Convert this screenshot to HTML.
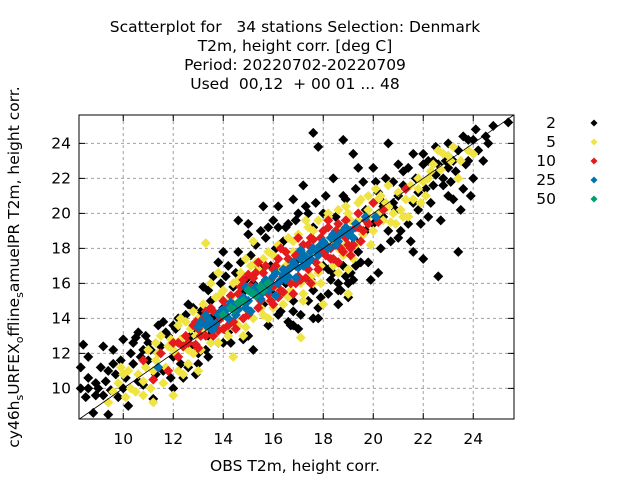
<!DOCTYPE html>
<html><head><meta charset="utf-8"><style>
body{margin:0;background:#fff}
svg{display:block;font-family:"DejaVu Sans","Liberation Sans",sans-serif}
</style></head><body>
<svg id="chart" width="640" height="480">
<g font-size="15.5" text-anchor="middle" fill="#000" style="white-space:pre">
<text x="295" y="32" xml:space="preserve">Scatterplot for   34 stations Selection: Denmark</text>
<text x="295" y="51">T2m, height corr. [deg C]</text>
<text x="295" y="70">Period: 20220702-20220709</text>
<text x="295" y="89" xml:space="preserve">Used  00,12  + 00 01 ... 48</text>
</g>
<g id="grid"></g>
<g id="marks"></g>
<g id="axes"></g>
<text x="295" y="471" font-size="15.5" text-anchor="middle">OBS T2m, height corr.</text>
<text transform="translate(19,267) rotate(-90)" font-size="15.5" text-anchor="middle">cy46h<tspan font-size="11" dy="4">s</tspan><tspan dy="-4">URFEX</tspan><tspan font-size="11" dy="4">o</tspan><tspan dy="-4">ffline</tspan><tspan font-size="11" dy="4">s</tspan><tspan dy="-4">amuelPR T2m, height corr.</tspan></text>
<g id="legend"></g>
</svg>
<script>
const xTicks=[10,12,14,16,18,20,22,24];
const yTicks=[10,12,14,16,18,20,22,24];
const legendLabels=["2","5","10","25","50"];
const colors=["#000000","#f0e442","#e41a1c","#0072b2","#009e73"];
const blackPts=[[8.3,11.2],[8.4,12.5],[8.6,10.6],[8.8,8.6],[9.0,10.0],[9.2,12.4],[9.4,8.5],[9.6,11.4],[9.8,9.5],[10.0,12.8],[10.2,9.0],[10.4,11.4],[10.6,13.2],[10.8,10.2],[11.0,12.6],[11.2,9.4],[11.4,13.6],[11.6,11.0],[11.8,13.0],[12.0,10.0],[12.2,14.0],[12.4,12.4],[12.6,11.2],[12.8,14.6],[13.0,12.0],[13.2,15.8],[13.4,13.0],[13.6,16.4],[13.8,12.6],[14.0,17.8],[14.2,13.2],[14.4,15.8],[14.6,19.6],[14.8,12.8],[15.0,18.8],[15.2,12.2],[15.4,17.0],[15.6,20.4],[15.8,13.6],[16.0,19.6],[16.2,14.2],[16.4,18.4],[16.6,13.8],[16.8,20.8],[17.0,13.4],[17.2,21.6],[17.4,15.0],[17.6,19.2],[17.8,14.6],[18.0,20.0],[18.2,15.4],[18.4,22.0],[18.6,14.8],[18.8,21.0],[19.0,16.0],[19.2,23.4],[19.4,17.8],[19.6,21.8],[19.8,17.2],[20.0,22.6],[20.2,16.6],[20.4,20.6],[20.6,19.0],[20.8,21.8],[21.0,18.6],[21.2,22.4],[21.4,19.4],[21.6,23.4],[21.8,20.2],[22.0,22.8],[22.2,19.8],[22.4,23.0],[22.6,16.4],[22.8,21.6],[23.0,24.0],[23.2,20.8],[23.4,23.6],[23.6,21.4],[23.8,24.2],[24.0,22.0],[24.2,23.6],[24.5,24.4],[24.8,25.0],[25.4,25.2],[24.6,24.0],[23.4,17.8],[21.6,17.8],[22.0,17.4],[17.8,23.8],[17.6,24.6],[18.8,24.2],[20.6,24.0],[14.0,14.6],[16.5,16.0],[18.4,18.8],[19.7,19.0],[12.0,11.8],[10.6,10.4],[14.8,15.5],[17.0,17.4],[13.4,11.8],[15.6,14.8],[18.0,17.0],[16.0,15.4],[17.6,14.0],[18.6,15.6],[19.0,15.2],[13.8,17.2],[15.5,19.0],[16.2,19.2],[12.4,10.6],[9.2,9.6],[11.0,11.6],[21.0,21.0],[22.5,23.8],[23.0,22.6],[20.0,19.4],[19.3,18.4],[16.8,15.0],[14.4,13.8],[12.9,13.4],
[8.5,9.5],[8.9,10.3],[9.1,11.2],[9.3,10.4],[9.5,9.9],[9.7,10.8],[9.9,11.6],[10.1,10.6],[10.3,12.0],[10.5,12.9],[10.7,11.8],[10.9,13.0],[11.1,12.2],[11.3,10.8],[11.5,12.4],[11.7,13.2],[11.9,10.6],[12.1,13.4],[12.3,11.4],[12.5,14.2],[12.7,13.0],[12.9,10.8],[13.1,14.4],[13.3,12.2],[13.5,15.0],[13.7,13.8],[13.9,16.0],[14.1,16.4],[14.3,12.6],[14.5,16.6],[14.7,17.2],[14.9,16.2],[15.1,17.6],[15.3,18.2],[15.5,16.8],[15.7,18.6],[15.9,17.0],[16.1,18.0],[16.3,14.4],[16.5,19.2],[16.7,13.6],[16.9,19.6],[17.1,14.2],[17.3,20.4],[17.5,16.2],[17.7,20.6],[17.9,15.2],[18.1,21.0],[18.3,16.2],[18.5,19.8],[18.7,15.6],[18.9,20.8],[19.1,16.6],[19.3,21.4],[19.5,17.2],[19.7,20.2],[19.9,16.2],[20.1,21.8],[20.3,18.0],[20.5,22.0],[20.7,18.4],[20.9,20.2],[21.1,19.0],[21.3,21.4],[21.5,18.4],[21.7,22.0],[21.9,19.4],[22.1,21.4],[22.3,20.6],[22.5,22.2],[22.7,19.6],[22.9,23.0],[23.1,21.8],[23.3,22.4],[23.5,20.2],[23.7,22.8],[23.9,21.0],[24.1,24.8],[22.0,23.4],[21.2,21.6],[20.4,19.8],[19.6,18.8],[18.8,17.0],[18.4,16.6],[18.6,17.2],[18.2,16.8],[17.4,20.0],[16.6,19.4],[15.8,19.2],[14.6,17.8],[13.4,15.6],[12.6,14.8],[11.6,13.8],[10.4,12.6],[9.6,12.2],[8.6,11.8],[8.3,10.0],[8.9,9.6],[23.2,23.0],[24.4,23.0],[23.6,24.4],[22.6,22.8],[21.6,20.6],[20.8,20.6],[16.8,13.6],[17.6,15.6],[19.2,16.2],[15.0,13.0],[14.0,12.6],[13.0,11.4],
[20.4,20.4],[21.4,22.6],[22.2,23.0],[23.0,21.0],[22.8,22.0],[24.0,24.2],[23.8,23.0],[21.0,22.8],[20.2,21.2],[19.4,22.6],[18.6,16.0],[18.9,16.4],[19.3,17.0],[17.8,14.0],[16.8,14.4],[15.2,16.0],[14.2,17.0],[13.6,14.2],[12.0,13.6],[11.4,12.0],[10.8,12.2],[10.0,10.0],[9.4,11.0],[8.6,10.0],[12.8,12.4],[17.0,20.0],[16.2,20.4],[15.0,19.4],[21.8,21.2],[22.4,21.6]];
const yellowPts=[[9.4,9.2],[9.8,10.3],[10.2,11.0],[10.5,9.8],[10.8,10.4],[11.0,12.2],[11.3,11.6],[11.6,10.3],[11.9,12.8],[12.2,11.0],[12.5,13.8],[12.8,12.0],[13.2,14.8],[13.3,18.3],[13.5,12.6],[13.9,15.4],[14.2,13.0],[14.6,16.2],[14.9,13.5],[15.3,17.2],[15.6,14.2],[16.0,17.6],[16.4,14.8],[16.8,18.4],[17.2,15.4],[17.6,19.0],[17.9,16.0],[18.2,19.8],[18.6,16.6],[18.9,20.4],[19.2,17.4],[19.5,20.8],[19.9,18.2],[20.3,21.0],[20.7,19.5],[21.1,20.2],[21.5,21.6],[21.9,20.6],[22.3,22.4],[22.7,22.5],[23.0,23.3],[23.4,22.0],[23.8,23.6],[12.0,9.6],[11.2,9.2],[14.4,11.8],[17.1,12.9],[15.2,18.4],[17.3,19.6],[18.0,14.8],[19.0,15.4],[20.1,21.4],[21.4,19.8],[22.0,21.8],[13.0,11.0],[10.0,10.8],[12.6,12.2],[16.2,16.8],[19.8,19.8],[20.6,20.4],
[10.6,10.8],[10.9,11.2],[11.1,10.0],[11.4,12.0],[11.7,11.2],[12.0,12.2],[12.3,12.8],[12.4,10.8],[12.7,13.4],[13.0,14.0],[13.1,12.2],[13.4,14.4],[13.6,13.0],[13.7,15.2],[14.0,15.6],[14.1,13.4],[14.4,16.0],[14.5,14.0],[14.7,16.6],[15.0,14.4],[15.1,17.0],[15.4,16.8],[15.5,14.6],[15.8,17.8],[15.9,15.2],[16.2,18.2],[16.3,15.4],[16.6,18.6],[16.7,15.6],[17.0,18.8],[17.1,16.0],[17.4,19.2],[17.5,16.4],[17.8,19.6],[17.9,17.0],[18.2,20.0],[18.4,17.0],[18.6,20.2],[18.8,17.6],[19.0,20.0],[19.3,18.2],[19.4,20.6],[19.6,18.8],[19.8,20.2],[20.0,19.0],[20.2,20.8],[20.4,19.6],[20.5,20.6],[20.8,20.0],[21.0,21.2],[21.2,19.8],[21.6,20.8],[21.8,22.0],[22.1,21.0],[22.4,22.8],[22.8,23.4],[23.1,23.0],[23.5,23.0],[24.0,23.4],[19.1,19.6],[18.7,19.0],[17.7,18.0],[16.5,17.0],[14.2,14.8],[12.9,13.0],[11.8,12.4],[10.3,10.0],[9.6,9.8],[12.2,13.6],[13.8,16.6],[14.8,13.0],[16.0,14.6],[17.2,15.0],[19.0,16.8],
[11.5,13.0],[11.2,11.0],[10.8,9.6],[12.1,12.0],[12.8,14.4],[13.2,13.2],[13.5,16.0],[14.3,15.2],[14.9,17.4],[15.6,17.4],[15.2,14.0],[16.1,15.8],[16.8,17.8],[17.4,17.6],[17.8,16.6],[18.3,18.2],[18.9,18.2],[19.4,19.6],[19.8,21.0],[20.2,20.0],[20.6,21.6],[21.3,20.8],[21.8,21.4],[22.2,22.0],[22.6,23.6],[23.2,23.8],[20.9,19.4],[12.6,11.4],[13.8,12.6],[14.6,13.6],[15.8,14.0],[16.6,15.2],[17.6,16.0],[18.6,18.0],[10.1,9.5],[9.9,11.2],[11.3,12.6],[12.3,14.0]];
const redPts=[[12.5,13.0],[12.8,13.6],[12.9,12.5],[13.2,14.0],[13.3,13.0],[13.6,14.4],[13.8,13.3],[14.0,15.0],[14.2,13.6],[14.6,15.4],[14.8,14.0],[15.2,16.3],[15.4,14.6],[15.6,16.6],[15.9,15.0],[16.1,17.0],[16.4,15.5],[16.6,17.4],[16.9,16.0],[17.1,17.8],[17.3,16.3],[17.6,18.5],[17.8,16.8],[18.0,19.0],[18.3,17.4],[18.6,19.4],[18.8,17.8],[19.0,19.0],[19.2,18.2],[19.6,19.0],[19.8,19.4],[11.5,12.0],[11.8,11.0],[11.2,10.5],[12.2,11.8],[12.0,12.6],[10.8,11.6],[21.3,21.4],[20.2,19.5],[14.5,13.4],[16.3,18.0],[17.0,18.6],[16.0,14.8],[15.0,16.5],[18.2,19.6],[19.4,20.0],[13.0,12.3],[16.8,15.4],[17.5,16.0],[20.0,20.6],
[12.6,12.6],[13.0,13.4],[13.4,13.6],[13.5,14.6],[13.9,14.0],[14.1,14.6],[14.3,15.3],[14.4,13.8],[14.7,15.8],[14.9,14.6],[15.1,15.8],[15.3,16.6],[15.5,15.0],[15.7,17.0],[15.8,15.4],[16.0,16.8],[16.2,17.4],[16.3,15.6],[16.5,17.8],[16.7,16.0],[16.9,17.6],[17.0,16.4],[17.2,18.2],[17.4,16.8],[17.5,18.6],[17.7,17.2],[17.9,18.6],[18.1,17.6],[18.2,19.2],[18.4,17.4],[18.5,19.0],[18.7,18.0],[18.9,19.6],[19.1,18.0],[19.3,19.2],[19.5,18.4],[19.7,19.6],[19.1,17.6],[18.6,17.2],[17.3,17.0],[16.4,16.4],[15.6,15.8],[14.6,14.8],[13.7,13.6],[13.1,13.0],[12.4,12.4],[20.4,20.2],
[13.3,14.4],[14.0,13.4],[14.8,16.2],[15.4,17.2],[15.9,16.2],[16.6,16.8],[17.4,18.2],[17.8,18.0],[18.3,18.0],[18.9,18.6],[19.4,19.2],[15.0,14.2],[16.2,15.2],[17.1,16.2],[12.9,13.8],[12.2,12.6],[13.6,13.0],[18.0,17.8],[19.0,18.2],[16.0,15.8]];
const bluePts=[[13.0,13.5],[13.3,13.6],[13.5,13.8],[13.8,14.2],[14.0,14.5],[14.2,14.0],[14.4,14.8],[14.6,14.5],[14.8,15.2],[15.0,15.0],[15.2,15.6],[15.4,15.3],[15.6,16.0],[15.8,15.6],[16.0,16.4],[16.2,16.0],[16.4,16.8],[16.6,16.4],[16.8,17.2],[17.0,16.9],[17.2,17.6],[17.4,17.2],[17.6,18.0],[17.8,17.6],[18.0,18.4],[18.2,18.0],[18.4,18.8],[18.6,18.4],[18.8,19.0],[19.0,18.8],[19.3,19.4],[14.5,14.2],[15.5,15.1],[16.5,16.2],[17.5,17.8],[18.5,18.2],[13.6,13.4],[16.1,15.3],[15.1,14.4],[17.1,17.9],[19.7,19.8],[20.1,19.8],[11.4,11.2],[14.9,15.8],[16.9,16.3],
[13.1,13.8],[13.4,14.0],[13.7,13.7],[13.9,14.4],[14.1,14.2],[14.3,14.9],[14.7,15.0],[14.9,14.6],[15.1,15.5],[15.3,15.8],[15.6,15.5],[15.7,16.2],[15.9,16.0],[16.1,16.6],[16.3,16.2],[16.5,16.7],[16.7,16.9],[16.9,17.0],[17.1,17.4],[17.3,17.5],[17.5,17.4],[17.7,17.9],[17.9,18.2],[18.1,18.2],[18.3,18.6],[18.5,18.6],[18.7,18.8],[18.9,19.2],[19.1,19.0],[17.2,17.0],[16.4,16.5],[15.4,15.6],[14.2,14.6],[13.3,14.2],[13.5,13.4],[19.2,18.6]];
const greenPts=[[14.0,14.2],[14.3,14.6],[15.0,15.6],[15.3,15.3],[15.8,16.0],[14.6,14.9],[15.5,15.8],[14.4,14.5],[14.8,15.0],[15.2,15.4],[15.6,15.6]];

const NS="http://www.w3.org/2000/svg";
const L=79,R=514,T=115,B=419,XMIN=8.23,XMAX=25.63,YMIN=8.25,YMAX=25.62;
function sx(v){return L+(v-XMIN)/(XMAX-XMIN)*(R-L);}
function sy(v){return B-(v-YMIN)/(YMAX-YMIN)*(B-T);}
function mk(tag,attrs,parent){const e=document.createElementNS(NS,tag);for(const k in attrs)e.setAttribute(k,attrs[k]);parent.appendChild(e);return e;}
const grid=document.getElementById('grid'),marks=document.getElementById('marks'),axes=document.getElementById('axes'),legend=document.getElementById('legend');
xTicks.forEach(t=>{
 const g=mk('line',{x1:sx(t),x2:sx(t),y1:T,y2:B,stroke:'#a0a0a0','stroke-dasharray':'3,3','stroke-width':1},grid);
 
 
 const tk=mk('path',{d:`M${sx(t)},${B}v-6M${sx(t)},${T}v6`,stroke:'#000'},axes);
 
 
 const lb=mk('text',{x:sx(t),y:444,'font-size':15.5,'text-anchor':'middle'},axes);lb.textContent=t;
 
 
});
yTicks.forEach(t=>{
 const g=mk('line',{x1:L,x2:R,y1:sy(t),y2:sy(t),stroke:'#a0a0a0','stroke-dasharray':'3,3','stroke-width':1},grid);
 
 
 const tk=mk('path',{d:`M${L},${sy(t)}h6M${R},${sy(t)}h-6`,stroke:'#000'},axes);
 
 
 const lb=mk('text',{x:71,y:sy(t)+5,'font-size':15.5,'text-anchor':'end'},axes);lb.textContent=t;
 
 
});
function dia(x,y,c,parent,r){return mk('path',{d:`M${x},${y-r}L${x+r},${y}L${x},${y+r}L${x-r},${y}Z`,fill:c},parent);}
const series=[blackPts,yellowPts,redPts,bluePts,greenPts];
series.forEach((s,i)=>{
 s.forEach(pt=>{
  const p=dia(sx(pt[0]),sy(pt[1]),colors[i],marks,5);
  
  
 });
});
const diag=mk('line',{x1:sx(Math.max(XMIN,YMIN)),y1:sy(Math.max(XMIN,YMIN)),x2:sx(Math.min(XMAX,YMAX)),y2:sy(Math.min(XMAX,YMAX)),stroke:'#000','stroke-width':0.8},axes);


const fr=mk('rect',{x:L,y:T,width:R-L,height:B-T,fill:'none',stroke:'#000','stroke-width':1},axes);


legendLabels.forEach((l,i)=>{
 const y=123+i*19;
 const t=mk('text',{x:556,y:y+5,'font-size':15.5,'text-anchor':'end'},legend);t.textContent=l;
 
 
 const m=dia(594,y,colors[i],legend,3.5);
 
 
});
</script>
</body></html>
